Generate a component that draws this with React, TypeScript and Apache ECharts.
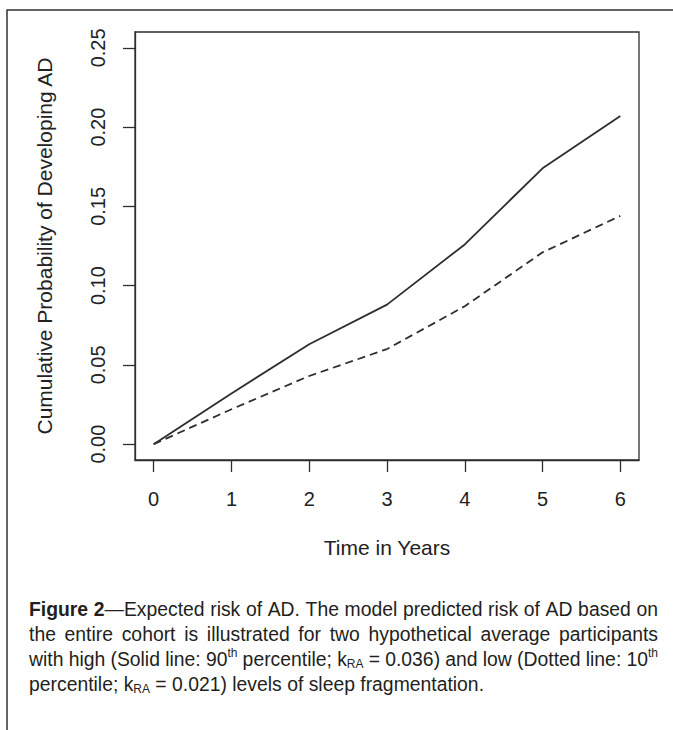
import React, { useEffect, useRef } from "react";
import * as echarts from "echarts";

// ---- data ----
const years = [0, 1, 2, 3, 4, 5, 6];
const highFragmentation = [0, 0.032, 0.063, 0.088, 0.126, 0.174, 0.207]; // solid line (90th pct)
const lowFragmentation = [0, 0.022, 0.043, 0.06, 0.087, 0.121, 0.144]; // dashed line (10th pct)
const xTicks = [0, 1, 2, 3, 4, 5, 6];
const yTicks = [0, 0.05, 0.1, 0.15, 0.2, 0.25];
const xTitle = "Time in Years";
const yTitle = "Cumulative Probability of Developing AD";
const captionLines = [
  "*Figure 2*—Expected risk of AD. The model predicted risk of AD based on",
  "the entire cohort is illustrated for two hypothetical average participants",
  "with high (Solid line: 90^{th} percentile; k_{RA} = 0.036) and low (Dotted line: 10^{th}",
  "percentile; k_{RA} = 0.021) levels of sleep fragmentation.",
];

const FONT = '"Liberation Sans", Arial, Helvetica, sans-serif';
const TEXT = "#222222";
const INK = "#2e2e2e";

type Seg = { text: string; kind: "n" | "b" | "sup" | "sub" };

function parseLine(src: string): Seg[][] {
  const words: Seg[][] = [];
  let cur: Seg[] = [];
  let bold = false;
  let i = 0;
  const push = (text: string, kind: Seg["kind"]) => {
    if (!text) return;
    const last = cur[cur.length - 1];
    if (last && last.kind === kind) last.text += text;
    else cur.push({ text, kind });
  };
  while (i < src.length) {
    const c = src[i];
    if (c === "*") {
      bold = !bold;
      i++;
      continue;
    }
    if ((c === "^" || c === "_") && src[i + 1] === "{") {
      const end = src.indexOf("}", i);
      push(src.slice(i + 2, end), c === "^" ? "sup" : "sub");
      i = end + 1;
      continue;
    }
    if (c === " ") {
      if (cur.length) words.push(cur);
      cur = [];
      i++;
      continue;
    }
    push(c, bold ? "b" : "n");
    i++;
  }
  if (cur.length) words.push(cur);
  return words;
}

const CAP_SIZE = 21;
const SMALL_SIZE = 13;
function segFont(kind: Seg["kind"]) {
  return {
    size: kind === "sup" || kind === "sub" ? SMALL_SIZE : CAP_SIZE,
    weight: kind === "b" ? "bold" : "normal",
  };
}

function buildCaption(): any[] {
  const canvas = document.createElement("canvas");
  const ctx = canvas.getContext("2d")!;
  const measure = (text: string, kind: Seg["kind"]) => {
    const f = segFont(kind);
    ctx.font = `${f.weight} ${f.size}px ${FONT}`;
    return ctx.measureText(text).width;
  };
  const parsed = captionLines.map(parseLine);
  const wordWidth = (w: Seg[]) => w.reduce((a, s) => a + measure(s.text, s.kind), 0);
  const space = measure(" ", "n");

  const left = 29;
  const right = 658;
  const lastEnd = 484;
  // horizontal condensing so the last (unjustified) line ends where it does
  const last = parsed[parsed.length - 1];
  const lastNatural =
    last.reduce((a, w) => a + wordWidth(w), 0) + space * (last.length - 1);
  const s = Math.min(1, (lastEnd - left) / lastNatural);

  const els: any[] = [];
  parsed.forEach((words, li) => {
    const cy = 609 + li * 25;
    const widths = words.map((w) => wordWidth(w) * s);
    const total = widths.reduce((a, b) => a + b, 0);
    const justify = li < parsed.length - 1;
    const gap = justify ? (right - left - total) / (words.length - 1) : space * s;
    let x = left;
    words.forEach((w, wi) => {
      let sx = x;
      w.forEach((seg) => {
        const f = segFont(seg.kind);
        const dy = seg.kind === "sup" ? -6 : seg.kind === "sub" ? 5 : 0;
        els.push({
          type: "text",
          x: sx,
          y: cy + dy,
          scaleX: s,
          silent: true,
          style: {
            text: seg.text,
            fontFamily: FONT,
            fontSize: f.size,
            fontWeight: f.weight,
            fill: "#231f20",
            align: "left",
            verticalAlign: "middle",
            textAlign: "left",
            textVerticalAlign: "middle",
          },
        });
        sx += measure(seg.text, seg.kind) * s;
      });
      x += widths[wi] + gap;
    });
  });
  return els;
}

export default function App() {
  const ref = useRef<HTMLDivElement>(null);

  useEffect(() => {
    document.body.style.margin = "0";
    const el = ref.current!;
    const chart = echarts.init(el, undefined, { renderer: "svg" });

    const toPairs = (vals: number[]) => years.map((x, i) => [x, vals[i]]);

    chart.setOption({
      animation: false,
      backgroundColor: "#ffffff",
      grid: {
        left: 135,
        right: 34,
        top: 32,
        bottom: 270,
        show: true,
        borderColor: INK,
        borderWidth: 1.3,
        backgroundColor: "transparent",
      },
      xAxis: {
        type: "value",
        min: -0.24,
        max: 6.24,
        splitLine: { show: false },
        axisLine: { show: true, onZero: false, lineStyle: { color: INK, width: 1.3 } },
        axisTick: {
          show: true,
          length: 12,
          customValues: xTicks,
          lineStyle: { color: INK, width: 1.3 },
        },
        axisLabel: {
          customValues: xTicks,
          margin: 29,
          fontSize: 20,
          fontFamily: FONT,
          color: TEXT,
          formatter: (v: number) => String(v),
        },
        name: xTitle,
        nameLocation: "middle",
        nameGap: 77,
        nameTextStyle: { fontSize: 21, fontFamily: FONT, color: TEXT },
      },
      yAxis: {
        type: "value",
        min: -0.01,
        max: 0.26,
        splitLine: { show: false },
        axisLine: { show: true, onZero: false, lineStyle: { color: INK, width: 1.3 } },
        axisTick: {
          show: true,
          length: 12,
          customValues: yTicks,
          lineStyle: { color: INK, width: 1.3 },
        },
        axisLabel: {
          customValues: yTicks,
          rotate: 90,
          margin: 27,
          fontSize: 20,
          fontFamily: FONT,
          color: TEXT,
          formatter: (v: number) => v.toFixed(2),
        },
        name: yTitle,
        nameLocation: "middle",
        nameGap: 80,
        nameTextStyle: { fontSize: 21, fontFamily: FONT, color: TEXT },
      },
      series: [
        {
          type: "line",
          name: "High (90th percentile)",
          data: toPairs(highFragmentation),
          symbol: "none",
          lineStyle: { color: INK, width: 1.8, type: "solid" },
        },
        {
          type: "line",
          name: "Low (10th percentile)",
          data: toPairs(lowFragmentation),
          symbol: "none",
          lineStyle: { color: INK, width: 1.8, type: [8, 5] },
        },
      ],
      graphic: [
        {
          type: "polyline",
          silent: true,
          shape: { points: [[7, 730], [7, 10], [673, 10]] },
          style: { stroke: "#333333", lineWidth: 1.5, fill: "none" },
        },
        ...buildCaption(),
      ],
    });

    return () => chart.dispose();
  }, []);

  return (
    <div
      ref={ref}
      style={{ position: "absolute", left: 0, top: 0, width: 673, height: 730, background: "#fff" }}
    />
  );
}
